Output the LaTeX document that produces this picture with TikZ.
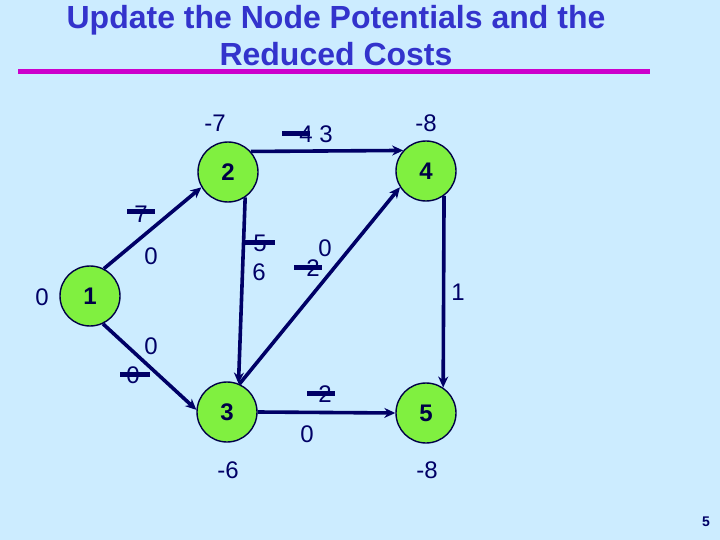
\documentclass[tikz,border=0pt]{standalone}
\usepackage{fontspec}
\setmainfont{Liberation Sans}
\usetikzlibrary{arrows.meta}
\definecolor{bgblue}{RGB}{204,236,255}
\definecolor{navy}{RGB}{0,0,102}
\definecolor{nodegreen}{RGB}{128,240,64}
\definecolor{titleblue}{RGB}{51,51,204}
\definecolor{rulemag}{RGB}{204,0,204}
\begin{document}
\begin{tikzpicture}[x=1pt,y=-1pt,
  vtx/.style={circle,draw=navy!70!black,line width=1.4pt,fill=nodegreen,minimum size=60pt,inner sep=0pt,font=\fontsize{24}{28}\selectfont\bfseries,text=navy!70!black},
  lbl/.style={font=\fontsize{24}{28}\selectfont,text=navy,inner sep=0pt},
  ttl/.style={font=\fontsize{32}{38}\selectfont\bfseries,text=titleblue,inner sep=0pt,anchor=base},
  arc/.style={draw=navy,line width=3.6pt,-{Stealth[length=11pt,width=10pt]}},
  strikebar/.style={draw=navy,line width=5pt}
]
\fill[bgblue] (0,0) rectangle (720,540);
\useasboundingbox (0,0) rectangle (720,540);

% title
\node[ttl] (t1) at (336,29) {Update the Node Potentials and the};
\node[ttl] (t2) at (336,66) {Reduced Costs};
\draw[rulemag,line width=5pt] (18,71.5) -- (650,71.5);

% nodes
\node[vtx] (n1) at (90,296) {1};
\node[vtx] (n2) at (228,172) {2};
\node[vtx] (n4) at (426,171) {4};
\node[vtx] (n3) at (227,412) {3};
\node[vtx] (n5) at (426,413) {5};

% arcs
\draw[arc] (n1.63) -- (n2.210);
\draw[arc] (n2.42) -- (n4.138);
\draw[arc] (n2.-56) -- (n3.68);
\draw[arc] (n3.66) -- (n4.212);
\draw[arc] (n4.-54) -- (n5.56);
\draw[arc] (n3.east) -- (n5.west);
\draw[arc] (n1.-65) -- (n3.176);

% potentials
\node[lbl] (p2) at (215,123) {-7};
\node[lbl] (p4) at (426,123) {-8};
\node[lbl] (p1) at (42,297) {0};
\node[lbl] (p3) at (228,470) {-6};
\node[lbl] (p5) at (427,470) {-8};

% reduced costs (old struck, new)
\node[lbl] (c12o) at (141,214) {7};
\node[lbl] (c12) at (151,256) {0};
\node[lbl] (c24o) at (306,134) {4};
\node[lbl] (c24) at (326,134) {3};
\node[lbl] (c23o) at (260,243) {5};
\node[lbl] (c23) at (259,272) {6};
\node[lbl] (c34o) at (313,268) {2};
\node[lbl] (c34) at (325,248) {0};
\node[lbl] (c45) at (458,292) {1};
\node[lbl] (c13o) at (133,375) {0};
\node[lbl] (c13) at (151,346) {0};
\node[lbl] (c35o) at (325,394) {2};
\node[lbl] (c35) at (307,434) {0};

\draw[strikebar] (127,212) -- (155,212);
\draw[strikebar] (282,134) -- (310,134);
\draw[strikebar] (243,242) -- (275,242);
\draw[strikebar] (294,267) -- (322,267);
\draw[strikebar] (120,374) -- (150,374);
\draw[strikebar] (307,393) -- (335,393);

% page number
\node[font=\fontsize{14}{16}\selectfont\bfseries,text=navy,inner sep=0pt] (pg) at (706,522) {5};
\end{tikzpicture}
\end{document}
